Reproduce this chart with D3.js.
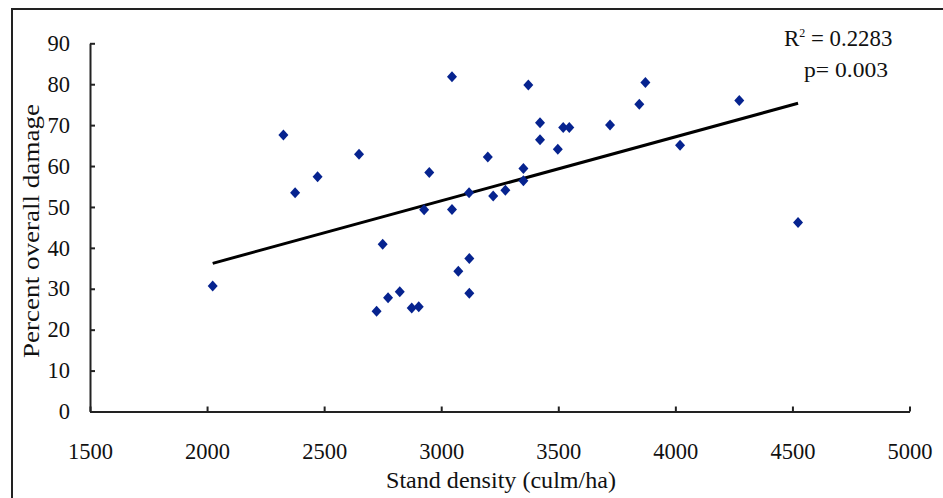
<!DOCTYPE html>
<html>
<head>
<meta charset="utf-8">
<script src="https://cdn.jsdelivr.net/npm/d3@7"></script>
<style>
  html, body { margin: 0; padding: 0; background: #fff; }
  svg { display: block; }
  text { font-family: "Liberation Serif", "Times New Roman", serif; fill: #111; }
</style>
</head>
<body>
<script>
// ---- data ----
const standDensity = [2024, 2326, 2376, 2472, 2649, 2750, 2724, 2773, 2823, 2874, 2904, 2927,
  2949, 3046, 3046, 3073, 3120, 3120, 3119, 3199, 3222, 3274, 3351, 3351, 3372, 3422, 3422,
  3498, 3521, 3547, 3721, 3846, 3872, 4020, 4273, 4524];
const overallDamage = [30.7, 67.6, 53.5, 57.4, 62.9, 40.9, 24.5, 27.8, 29.3, 25.3, 25.6, 49.3,
  58.4, 81.8, 49.4, 34.3, 37.4, 28.9, 53.5, 62.2, 52.7, 54.1, 59.4, 56.4, 79.8, 70.6, 66.4,
  64.1, 69.4, 69.4, 70.0, 75.1, 80.4, 65.1, 76.0, 46.2];
const xTicks = [1500, 2000, 2500, 3000, 3500, 4000, 4500, 5000];
const yTicks = [0, 10, 20, 30, 40, 50, 60, 70, 80, 90];
const xTitle = "Stand density (culm/ha)";
const yTitle = "Percent overall damage";
const statLines = ["R", "p= 0.003"];

const W = 943, H = 498;
const svg = d3.select("body").append("svg").attr("width", W).attr("height", H);

// outer frame (top and left edges visible)
svg.append("path").attr("d", "M12,520 V9 H960").attr("fill", "none")
  .attr("stroke", "#222").attr("stroke-width", 2);

const x = d3.scaleLinear().domain([1500, 5000]).range([90, 909.5]);
const y = d3.scaleLinear().domain([0, 90]).range([411.5, 43.3]);

const xAxis = svg.append("g").attr("transform", `translate(0,${y(0)})`)
  .call(d3.axisBottom(x).tickValues(xTicks).tickSizeInner(-5).tickSizeOuter(0).tickPadding(32)
    .tickFormat(d3.format("d")));
const yAxis = svg.append("g").attr("transform", `translate(${x(1500)},0)`)
  .call(d3.axisLeft(y).tickValues(yTicks).tickSizeInner(-5).tickSizeOuter(0).tickPadding(20)
    .tickFormat(d3.format("d")));
[xAxis, yAxis].forEach(g => {
  g.selectAll("path, line").attr("stroke", "#222").attr("stroke-width", 2);
  g.selectAll("text").style("font-family", '"Liberation Serif", serif').style("font-size", "22.5px")
    .attr("fill", "#111");
});

// regression line (least squares over the data, drawn over its data range)
const n = standDensity.length;
const mx = d3.mean(standDensity), my = d3.mean(overallDamage);
let sxy = 0, sxx = 0;
for (let i = 0; i < n; i++) {
  sxy += (standDensity[i] - mx) * (overallDamage[i] - my);
  sxx += (standDensity[i] - mx) ** 2;
}
const slope = sxy / sxx, intercept = my - slope * mx;
const [x0, x1] = d3.extent(standDensity);
svg.append("line")
  .attr("x1", x(x0)).attr("y1", y(intercept + slope * x0))
  .attr("x2", x(x1)).attr("y2", y(intercept + slope * x1))
  .attr("stroke", "#000").attr("stroke-width", 3);

// points (diamonds)
const diamond = "M0,-5.5 L5,0 L0,5.5 L-5,0 Z";
svg.append("g").selectAll("path").data(d3.range(n)).join("path")
  .attr("d", diamond)
  .attr("transform", i => `translate(${x(standDensity[i])},${y(overallDamage[i])})`)
  .attr("fill", "#06238f");

// axis titles
svg.append("text").attr("x", 501).attr("y", 488)
  .attr("text-anchor", "middle").style("font-size", "24px")
  .attr("textLength", 230).attr("lengthAdjust", "spacingAndGlyphs").text(xTitle);
svg.append("text").attr("transform", `translate(39,231) rotate(-90)`)
  .attr("text-anchor", "middle").style("font-size", "24px")
  .attr("textLength", 254).attr("lengthAdjust", "spacingAndGlyphs").text(yTitle);

// statistics annotation
const t1 = svg.append("text").attr("x", 784).attr("y", 46).style("font-size", "23px");
t1.append("tspan").text(statLines[0]);
t1.append("tspan").attr("dy", -9).style("font-size", "12px").text("2");
t1.append("tspan").attr("dy", 9).attr("textLength", 87).attr("lengthAdjust", "spacingAndGlyphs")
  .text(" = 0.2283");
svg.append("text").attr("x", 804).attr("y", 77).style("font-size", "22px")
  .attr("textLength", 84).attr("lengthAdjust", "spacingAndGlyphs").text(statLines[1]);
</script>
</body>
</html>
